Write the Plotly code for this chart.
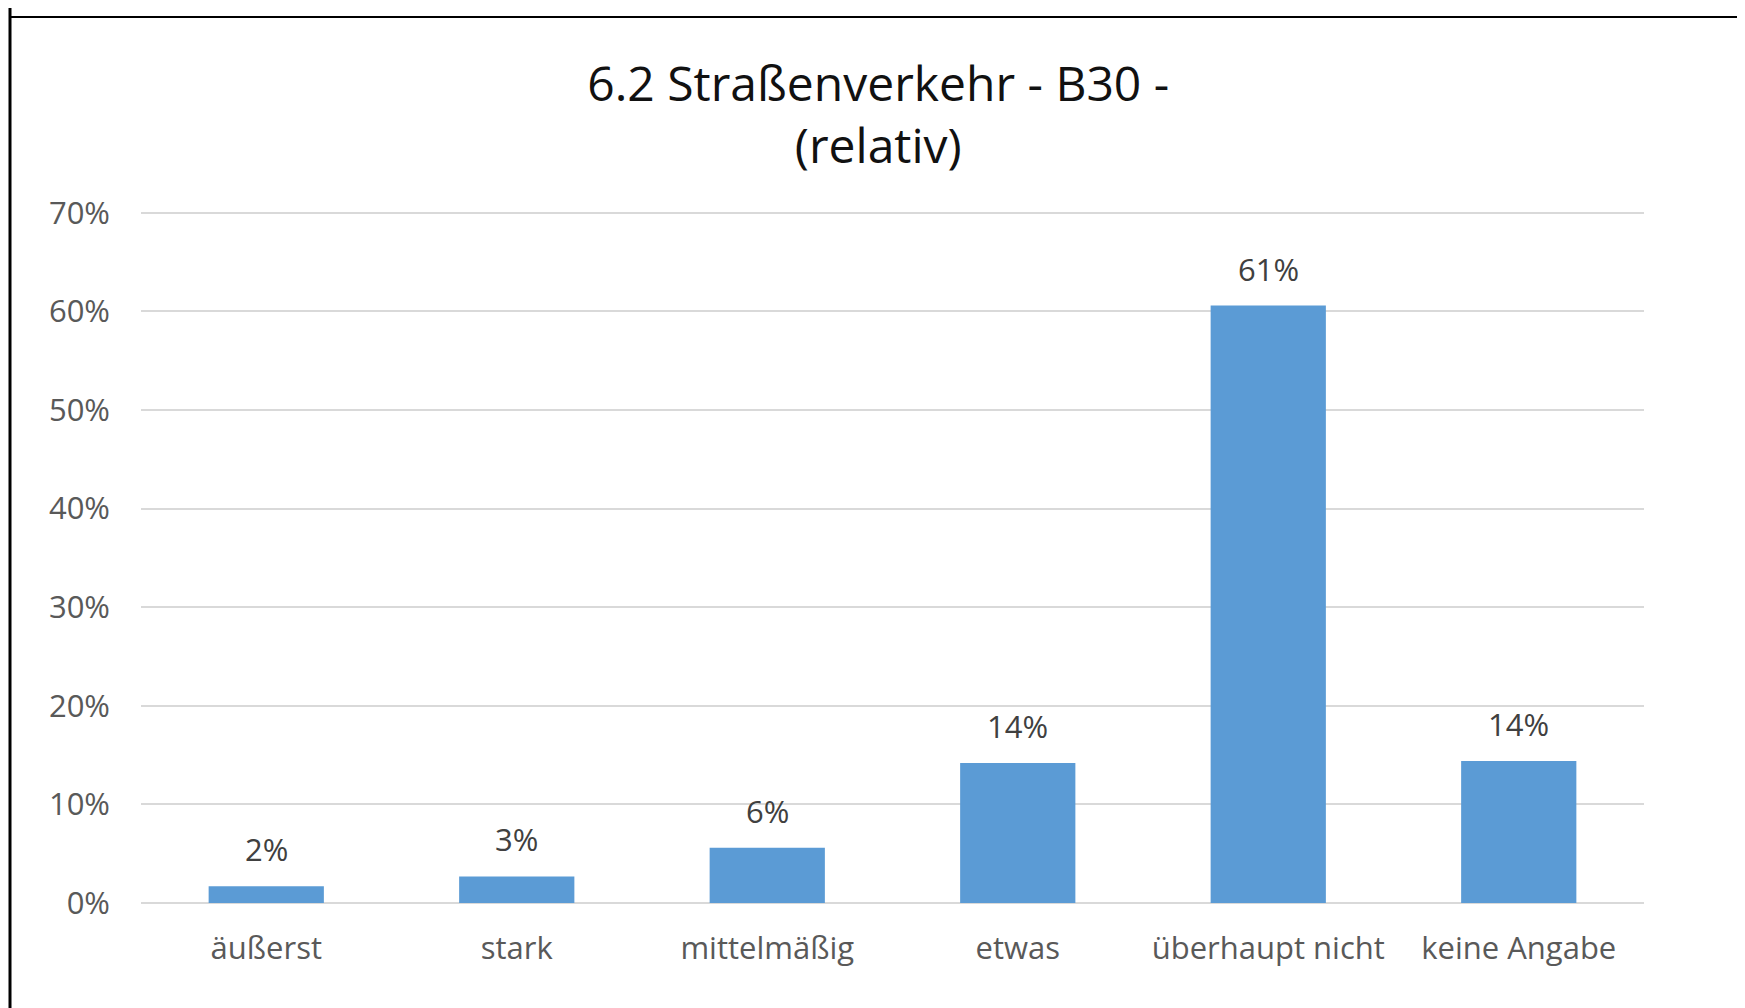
import plotly.graph_objects as go

# data
categories = ["äußerst", "stark", "mittelmäßig", "etwas", "überhaupt nicht", "keine Angabe"]
shares = [0.017, 0.027, 0.056, 0.142, 0.606, 0.144]
y_ticks = [0, 0.1, 0.2, 0.3, 0.4, 0.5, 0.6, 0.7]
y_tick_text = ["0%", "10%", "20%", "30%", "40%", "50%", "60%", "70%"]

# the html page adds an 8px body margin, so the figure is a bit smaller
W, H = 1737, 1000
L, R, T, B = 133, 101, 195, 105
pw, ph = W - L - R, H - T - B

def px_x(x):
    return (x - L) / pw

def px_y(y):
    return (H - B - y) / ph

font = "Open Sans"

fig = go.Figure(go.Bar(
    x=categories,
    y=shares,
    marker=dict(color="#5B9BD5", line=dict(width=0)),
    hoverinfo="x+y",
))

# value labels above the bars
for c, v in zip(categories, shares):
    fig.add_annotation(
        x=c, y=v, text=f"{round(v * 100)}%", showarrow=False,
        yanchor="bottom", yshift=14,
        font=dict(family=font, size=31, color="#404040"),
    )

fig.update_layout(
    width=W, height=H,
    margin=dict(l=L, r=R, t=T, b=B),
    paper_bgcolor="white", plot_bgcolor="white",
    bargap=0.54,
    showlegend=False,
    title=dict(
        text="6.2 Straßenverkehr - B30 -<br>(relativ)",
        x=0.501, xanchor="center", y=1 - 93 / H, yanchor="top",
        font=dict(family=font, size=48, color="#111111"),
    ),
    shapes=[
        dict(type="line", xref="paper", yref="paper",
             x0=px_x(2), x1=px_x(2), y0=px_y(-10), y1=px_y(H + 10),
             line=dict(color="black", width=3)),
        dict(type="line", xref="paper", yref="paper",
             x0=px_x(2), x1=px_x(W + 10), y0=px_y(9), y1=px_y(9),
             line=dict(color="black", width=2)),
    ],
)

fig.update_xaxes(
    showgrid=False, showline=False, ticks="",
    ticklabelstandoff=24,
    tickfont=dict(family=font, size=31, color="#595959"),
)
fig.update_yaxes(
    range=[0, 0.71],
    tickvals=y_ticks, ticktext=y_tick_text,
    showgrid=True, gridcolor="#D9D9D9", gridwidth=2,
    zeroline=True, zerolinecolor="#D9D9D9", zerolinewidth=2,
    showline=False, ticks="",
    ticklabelstandoff=30,
    tickfont=dict(family=font, size=31, color="#595959"),
)

fig.write_html("out.html")
